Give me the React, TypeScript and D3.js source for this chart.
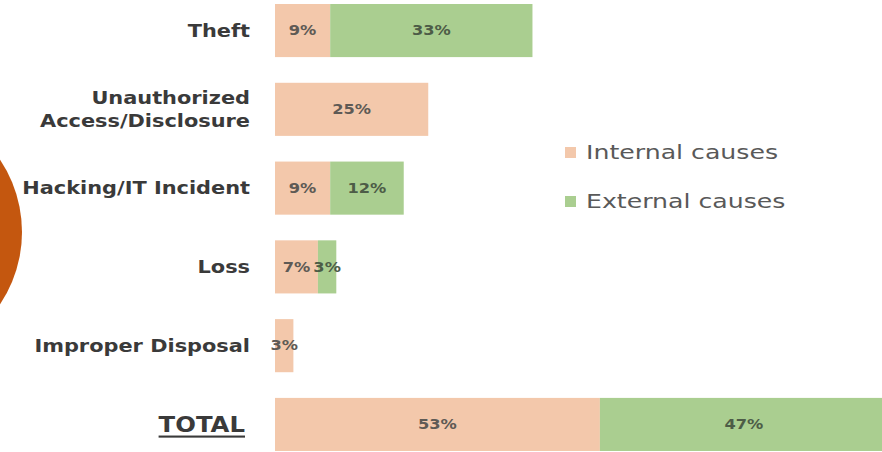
import React from "react";
import * as d3 from "d3";

const categories = ["Theft", "Unauthorized\nAccess/Disclosure", "Hacking/IT Incident", "Loss", "Improper Disposal", "TOTAL"];
const internalValues = [9, 25, 9, 7, 3, 53];
const externalValues = [33, 0, 12, 3, 0, 47];
const seriesNames = ["Internal causes", "External causes"];
const colors = ["#F3C8AB", "#AACE90"];

const W = 882;
const H = 452;
const SX = 1.16;

function StretchText(props: {
  x: number; y: number; sx: number; anchor: string; size: number; weight?: string; fill: string; underline?: boolean; children: React.ReactNode;
}) {
  const { x, y, sx, anchor, size, weight, fill, underline, children } = props;
  return (
    <text
      transform={`translate(${x},${y}) scale(${sx},1)`}
      x={0}
      y={0}
      textAnchor={anchor}
      dominantBaseline="central"
      fontFamily="DejaVu Sans"
      fontWeight={weight}
      fontSize={size}
      fill={fill}
      textDecoration={underline ? "underline" : undefined}
    >
      {children}
    </text>
  );
}

export default function App() {
  const x = d3.scaleLinear().domain([0, 100]).range([275, 888]);
  const y = d3.scaleBand<string>().domain(categories).range([4, 451]).paddingInner(0.326).paddingOuter(0);
  const bw = y.bandwidth();

  return (
    <svg width={W} height={H} style={{ position: "absolute", left: 0, top: 0, background: "#fff" }}>
      <circle cx={-108} cy={232} r={130} fill="#C4570F" />
      {categories.map((c, i) => {
        const y0 = y(c)!;
        const cy = y0 + bw / 2;
        const lines = c.split("\n");
        const isTotal = c === "TOTAL";
        const inter = internalValues[i];
        const ext = externalValues[i];
        const x0 = x(0);
        const x1 = x(inter);
        const x2 = x(inter + ext);
        return (
          <g key={c}>
            {lines.map((l, j) => (
              <StretchText
                key={j}
                x={isTotal ? 245 : 250}
                y={cy + (j - (lines.length - 1) / 2) * 23}
                sx={SX}
                anchor="end"
                size={isTotal ? 21 : 18}
                weight="bold"
                fill="#3a3a3a"
                underline={isTotal}
              >
                {l}
              </StretchText>
            ))}
            <rect x={x0} y={y0} width={x1 - x0} height={bw} fill={colors[0]} />
            {ext > 0 && <rect x={x1} y={y0} width={x2 - x1} height={bw} fill={colors[1]} />}
            <StretchText x={(x0 + x1) / 2} y={cy} sx={SX} anchor="middle" size={14} weight="bold" fill="#5e5a55">
              {inter}%
            </StretchText>
            {ext > 0 && (
              <StretchText x={(x1 + x2) / 2} y={cy} sx={SX} anchor="middle" size={14} weight="bold" fill="#4d5c47">
                {ext}%
              </StretchText>
            )}
          </g>
        );
      })}
      {seriesNames.map((s, i) => (
        <g key={s}>
          <rect x={565} y={147 + i * 49} width={11} height={11} fill={colors[i]} />
          <StretchText x={586} y={152 + i * 49} sx={1.26} anchor="start" size={20} fill="#595959">
            {s}
          </StretchText>
        </g>
      ))}
    </svg>
  );
}
